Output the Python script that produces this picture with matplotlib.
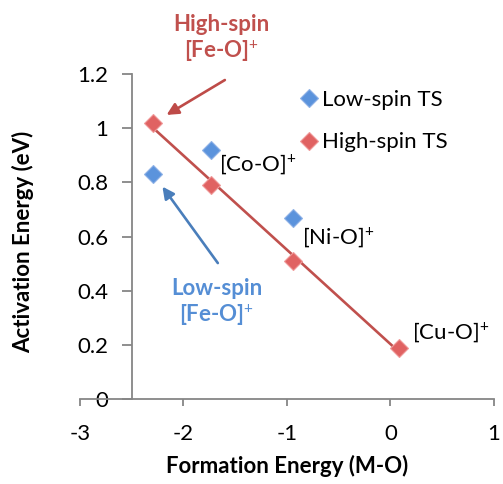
import numpy as np
import matplotlib.pyplot as plt

plt.rcParams['font.family'] = ['Lato', 'DejaVu Sans']
plt.rcParams['mathtext.fontset'] = 'custom'
plt.rcParams['mathtext.rm'] = 'Lato'
plt.rcParams['mathtext.bf'] = 'Lato:bold'
plt.rcParams['axes.unicode_minus'] = False

# data
formation = [-2.29, -1.73, -0.94, 0.08]
high_spin = [1.02, 0.79, 0.51, 0.19]
low_x = [-2.29, -1.73, -0.94]
low_spin = [0.83, 0.92, 0.67]

labels = ['[Co-O]$^{+}$', '[Ni-O]$^{+}$', '[Cu-O]$^{+}$']
label_pos = [(-1.66, 0.864), (-0.85, 0.595), (0.21, 0.244)]

red = '#C0504D'
blue = '#4F81BD'
axis_gray = '#868686'
fs = 16

fig = plt.figure(figsize=(5.03, 4.84), dpi=100)
ax = fig.add_axes([0.159, 0.1756, 0.823, 0.6714])

# linear trend line through high-spin points
k, b = np.polyfit(formation, high_spin, 1)
xs = np.array([min(formation), max(formation)])
ax.plot(xs, k * xs + b, color=red, lw=1.9, zorder=2)

ax.plot(low_x, low_spin, 'D', ms=9, mfc='#5B93DC', mec='#8FB2E6', mew=0.8,
        ls='none', label='Low-spin TS', zorder=3)
ax.plot(formation, high_spin, 'D', ms=9, mfc='#E06262', mec='#F09A9A', mew=0.8,
        ls='none', label='High-spin TS', zorder=3)

for txt, (tx, ty) in zip(labels, label_pos):
    ax.text(tx, ty, txt, fontsize=fs, va='center', ha='left')

# callouts
ax.annotate('', xy=(formation[0], high_spin[0]), xytext=(-1.60, 1.178),
            arrowprops=dict(arrowstyle='-|>,head_length=0.7,head_width=0.35',
                            color='#BE4B48', lw=1.9, shrinkA=0, shrinkB=11))
ax.text(-1.63, 1.33, 'High-spin\n[Fe-O]$^{+}$', color=red, fontsize=fs,
        fontweight='bold', ha='center', va='center', linespacing=1.2)
ax.annotate('', xy=(low_x[0], low_spin[0]), xytext=(-1.668, 0.502),
            arrowprops=dict(arrowstyle='-|>,head_length=0.7,head_width=0.35',
                            color='#4A7EBB', lw=1.9, shrinkA=0, shrinkB=11))
ax.text(-1.678, 0.355, 'Low-spin\n[Fe-O]$^{+}$', color='#558ED5', fontsize=fs,
        fontweight='bold', ha='center', va='center', linespacing=1.2)

ax.set_xlim(-3, 1)
ax.set_ylim(0, 1.2)
ax.set_xticks([-3, -2, -1, 0, 1])
ax.set_yticks([0, 0.2, 0.4, 0.6, 0.8, 1, 1.2])
ax.set_yticklabels(['0', '0.2', '0.4', '0.6', '0.8', '1', '1.2'])

ax.spines['left'].set_position(('data', -2.5))
ax.spines['top'].set_visible(False)
ax.spines['right'].set_visible(False)
for s in ('left', 'bottom'):
    ax.spines[s].set_color(axis_gray)
    ax.spines[s].set_linewidth(1.3)
ax.tick_params(axis='y', direction='out', length=7, width=1.3, color=axis_gray,
               labelsize=fs, pad=10)
ax.tick_params(axis='x', direction='out', length=5, width=1.3, color=axis_gray,
               labelsize=fs, pad=13)

fig.text(0.045, 0.5, 'Activation Energy (eV)', rotation=90, fontsize=fs,
         fontweight='bold', ha='center', va='center')
fig.text(0.57, 0.038, 'Formation Energy (M-O)', fontsize=fs, fontweight='bold',
         ha='center', va='center')

ax.legend(loc='upper left', bbox_to_anchor=(0.562, 0.846),
          bbox_transform=fig.transFigure, frameon=False, fontsize=fs,
          handletextpad=0.05, labelspacing=1.0, handlelength=1.0,
          borderpad=0.2)

fig.savefig('out.png', dpi=100)
